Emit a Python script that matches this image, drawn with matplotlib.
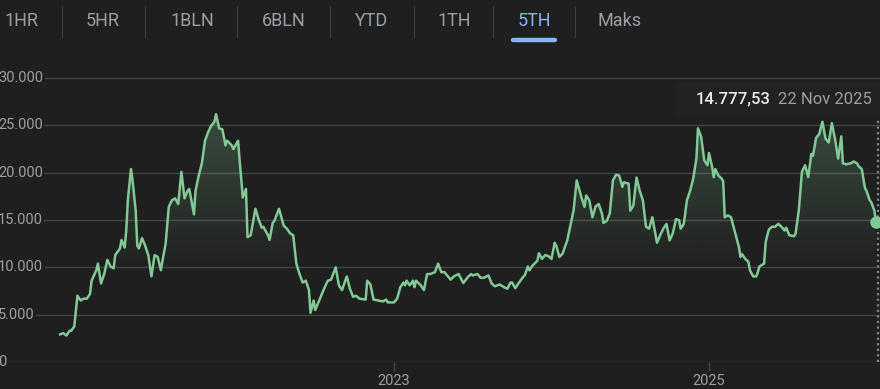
import numpy as np
import matplotlib
matplotlib.use('Agg')
import matplotlib.pyplot as plt
from matplotlib.lines import Line2D
from matplotlib.patches import Rectangle

plt.rcParams['font.family'] = ['Roboto', 'DejaVu Sans']

# range buttons
ranges = ['1HR', '5HR', '1BLN', '6BLN', 'YTD', '1TH', '5TH', 'Maks']
active_range = '5TH'

# price series (x in decimal years on the chart axis)
t_year = [
    2020.88, 2020.90, 2020.92, 2020.94, 2020.95, 2020.97, 2020.99, 2021.01, 2021.03, 2021.05,
    2021.07, 2021.08, 2021.11, 2021.12, 2021.14, 2021.16, 2021.18, 2021.20, 2021.22, 2021.23,
    2021.26, 2021.27, 2021.29, 2021.30, 2021.31, 2021.33, 2021.34, 2021.36, 2021.37, 2021.38,
    2021.40, 2021.42, 2021.44, 2021.46, 2021.48, 2021.50, 2021.52, 2021.53, 2021.55, 2021.57,
    2021.59, 2021.61, 2021.63, 2021.65, 2021.67, 2021.69, 2021.70, 2021.73, 2021.74, 2021.76,
    2021.78, 2021.80, 2021.82, 2021.84, 2021.86, 2021.87, 2021.89, 2021.91, 2021.93, 2021.94,
    2021.97, 2021.98, 2022.01, 2022.02, 2022.04, 2022.06, 2022.07, 2022.09, 2022.12, 2022.14,
    2022.16, 2022.17, 2022.20, 2022.21, 2022.23, 2022.24, 2022.27, 2022.30, 2022.32, 2022.34,
    2022.36, 2022.38, 2022.40, 2022.42, 2022.44, 2022.46, 2022.47, 2022.49, 2022.50, 2022.53,
    2022.56, 2022.58, 2022.60, 2022.63, 2022.65, 2022.67, 2022.70, 2022.72, 2022.74, 2022.76,
    2022.78, 2022.82, 2022.83, 2022.85, 2022.87, 2022.90, 2022.93, 2022.95, 2022.96, 2023.00,
    2023.02, 2023.04, 2023.06, 2023.07, 2023.08, 2023.10, 2023.12, 2023.13, 2023.14, 2023.17,
    2023.19, 2023.21, 2023.23, 2023.26, 2023.28, 2023.30, 2023.32, 2023.36, 2023.38, 2023.41,
    2023.44, 2023.47, 2023.49, 2023.50, 2023.53, 2023.55, 2023.57, 2023.60, 2023.62, 2023.64,
    2023.67, 2023.70, 2023.72, 2023.74, 2023.75, 2023.77, 2023.79, 2023.82, 2023.83, 2023.85,
    2023.86, 2023.88, 2023.91, 2023.92, 2023.94, 2023.96, 2023.98, 2024.00, 2024.02, 2024.03,
    2024.05, 2024.07, 2024.10, 2024.12, 2024.14, 2024.16, 2024.19, 2024.21, 2024.22, 2024.24,
    2024.26, 2024.28, 2024.30, 2024.32, 2024.33, 2024.35, 2024.37, 2024.39, 2024.41, 2024.43,
    2024.45, 2024.46, 2024.49, 2024.50, 2024.52, 2024.54, 2024.56, 2024.58, 2024.60, 2024.62,
    2024.64, 2024.65, 2024.67, 2024.69, 2024.71, 2024.73, 2024.75, 2024.77, 2024.79, 2024.81,
    2024.82, 2024.84, 2024.86, 2024.88, 2024.90, 2024.92, 2024.93, 2024.95, 2024.97, 2024.99,
    2025.00, 2025.02, 2025.03, 2025.04, 2025.06, 2025.08, 2025.09, 2025.10, 2025.12, 2025.14,
    2025.17, 2025.19, 2025.20, 2025.21, 2025.23, 2025.25, 2025.26, 2025.28, 2025.30, 2025.31,
    2025.32, 2025.35, 2025.36, 2025.38, 2025.40, 2025.42, 2025.44, 2025.46, 2025.48, 2025.49,
    2025.51, 2025.54, 2025.55, 2025.57, 2025.59, 2025.61, 2025.63, 2025.65, 2025.66, 2025.68,
    2025.70, 2025.72, 2025.74, 2025.76, 2025.78, 2025.80, 2025.82, 2025.84, 2025.85, 2025.87,
    2025.90, 2025.92, 2025.94, 2025.95, 2025.97, 2025.99, 2026.00, 2026.02, 2026.03, 2026.05,
    2026.06,
]
prices = [
    2920, 3050, 2800, 3300, 3300, 3750, 7000, 6500, 6700, 6700,
    7200, 8600, 9700, 10400, 8300, 9300, 10800, 10100, 9900, 11300,
    12000, 12900, 12100, 13900, 17100, 20400, 19200, 16000, 12300, 12000,
    13100, 12300, 11300, 9050, 11300, 11100, 9700, 10700, 12500, 16400,
    17100, 17300, 16700, 20100, 17300, 18100, 18300, 15600, 18100, 19700,
    21000, 23400, 24300, 25000, 25400, 26200, 24700, 24600, 22900, 23400,
    22900, 22500, 23400, 21300, 17400, 18300, 13200, 13400, 16200, 15100,
    14200, 14300, 13400, 12900, 14700, 14900, 16200, 14400, 14100, 13600,
    13400, 10400, 9300, 8400, 8600, 7600, 5200, 6500, 5500, 6700,
    7900, 8600, 8700, 10000, 8100, 7600, 9050, 7750, 6900, 7000,
    6700, 6600, 8600, 8200, 6600, 6500, 6400, 6600, 6300, 6300,
    6700, 7900, 8400, 8100, 8600, 8100, 8600, 7900, 8600, 8100,
    7600, 9300, 9300, 9500, 10400, 9500, 9500, 8700, 9050, 9300,
    8350, 9000, 9300, 9150, 9300, 8900, 8900, 9150, 8300, 8000,
    8200, 7900, 7750, 8400, 8400, 7800, 8300, 9000, 9150, 10100,
    9700, 10200, 10700, 11500, 10900, 11300, 11200, 10900, 12600, 12300,
    11100, 11450, 12850, 14400, 16000, 19200, 17400, 16400, 17600, 17100,
    15300, 16450, 16700, 15700, 14700, 14900, 15700, 19200, 19800, 19700,
    18500, 19000, 18850, 16000, 16550, 19500, 18100, 17100, 14300, 14100,
    15300, 14400, 12600, 13400, 14100, 14600, 12850, 13600, 15100, 15000,
    14100, 14600, 17100, 18100, 19400, 21500, 24700, 23800, 21300, 20800,
    22100, 20600, 19550, 20400, 19700, 19400, 19100, 15300, 15500, 15300,
    13400, 12150, 11100, 11400, 10900, 10600, 9700, 9050, 9050, 9500,
    10100, 10400, 12700, 14000, 14300, 14300, 14600, 14300, 13900, 14200,
    13400, 13300, 13600, 16000, 20100, 20800, 19550, 22000, 21800, 23700,
    24100, 25400, 23600, 23200, 25250, 23600, 21500, 23850, 21000, 20900,
    21000, 21200, 21000, 20700, 20400, 18400, 18100, 17100, 16900, 16000,
    14777.53,
]

y_ticks = [0, 5000, 10000, 15000, 20000, 25000, 30000]
x_ticks = [2023, 2025]
x_labels = ['2023', '2025']
last_value_text = '14.777,53'
last_date_text = '22 Nov 2025'

bg = '#1f1f1f'
green = '#81c995'
grey_text = '#9aa0a6'
grid_col = '#444547'

W, H = 880, 389
fig = plt.figure(figsize=(W / 100, H / 100), dpi=100, facecolor=bg)


def fx(px):
    return px / W


def fy(py):
    return 1 - py / H


# tab bar
tab_centers = [21, 103, 192, 284, 372, 454, 534, 620]
for name, cx in zip(ranges, tab_centers):
    col = '#8ab4f8' if name == active_range else grey_text
    fig.text(fx(cx), fy(21), name, color=col, fontsize=13, ha='center', va='center')
for sx in [62, 145, 237, 330, 414, 493, 575]:
    fig.add_artist(Line2D([fx(sx), fx(sx)], [fy(6), fy(37)], color='#3c4043', lw=0.8))
fig.add_artist(Line2D([fx(513), fx(555)], [fy(39.5), fy(39.5)], color='#8ab4f8', lw=3.2,
                      solid_capstyle='round'))

# chart axes: x pixel 0..880, y pixel 52..362
x0 = 2023 - 394 / 157.5
x1 = 2023 + (W - 394) / 157.5
ymax = (362 - 52) / 9.46 * 1000
ax = fig.add_axes([0, fy(362), 1, (362 - 52) / H])
ax.set_facecolor(bg)
ax.set_xlim(x0, x1)
ax.set_ylim(0, ymax)
for s in ax.spines.values():
    s.set_visible(False)

ax.set_yticks(y_ticks)
ax.yaxis.grid(True, color=grid_col, lw=1.0)
ax.tick_params(axis='y', length=0, labelleft=False)
ax.set_axisbelow(True)
for v in y_ticks:
    lab = f'{v:,}'.replace(',', '.')
    ax.text(-2 / W, v, lab, transform=ax.get_yaxis_transform(), ha='left', va='center',
            color=grey_text, fontsize=10.5, zorder=3,
            bbox=dict(facecolor=bg, edgecolor='none', pad=1.2))

ax.set_xticks(x_ticks)
ax.set_xticklabels(x_labels)
ax.tick_params(axis='x', length=6.5, width=1, color=grid_col, labelcolor=grey_text,
               labelsize=10.5, pad=2)

# gradient fill under the line
x = np.array(t_year)
y = np.array(prices)
poly = ax.fill_between(x, y, 0, color='none', lw=0)
grad_y = np.linspace(0, ymax, 300)
alpha = np.clip((grad_y - 9000) / (26000 - 9000), 0, 1) * 0.26
img = np.zeros((300, 1, 4))
img[:, 0, 0] = 0x81 / 255
img[:, 0, 1] = 0xc9 / 255
img[:, 0, 2] = 0x95 / 255
img[:, 0, 3] = alpha
im = ax.imshow(img, extent=[x[0], x[-1], 0, ymax], origin='lower', aspect='auto', zorder=1,
               interpolation='bilinear')
im.set_clip_path(poly.get_paths()[0], transform=ax.transData)

ax.plot(x, y, color=green, lw=1.8, zorder=4, solid_joinstyle='round')
ax.plot([x[-1]], [y[-1]], 'o', color=green, ms=9, zorder=5, mec='none')

# hover guide
ax.plot([2023 + (878 - 394) / 157.5] * 2, [0, (362 - 120) / 9.46 * 1000], color='#80868b',
        lw=1.6, ls=(0, (1, 1.5)), zorder=3)

# tooltip
fig.add_artist(Rectangle((fx(676), fy(116)), fx(880) - fx(676), fy(83) - fy(116),
                         facecolor='#222222', edgecolor='none'))
fig.text(fx(696), fy(99), last_value_text, color='#e8eaed', fontsize=12, ha='left',
         va='center', fontweight='medium')
fig.text(fx(778), fy(99), last_date_text, color=grey_text, fontsize=12, ha='left', va='center')

fig.savefig('out.png', dpi=100, facecolor=bg)
